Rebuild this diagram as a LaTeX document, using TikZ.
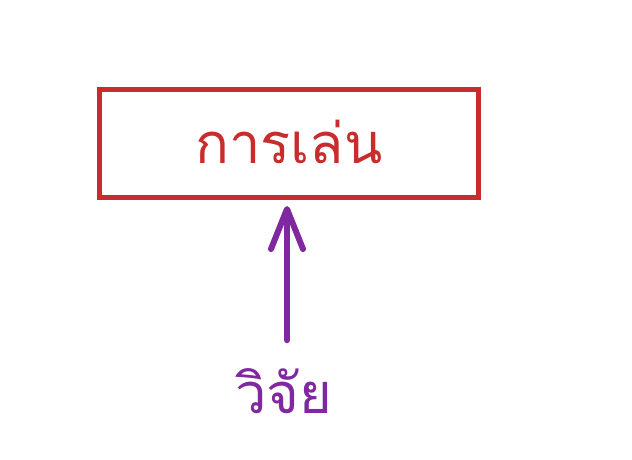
\documentclass[tikz,border=0pt]{standalone}
\usepackage{fontspec}
\newfontfamily\thaifont[Script=Thai]{Loma}
\usetikzlibrary{arrows.meta}
\definecolor{boxred}{RGB}{200,44,44}
\definecolor{arrowpurple}{RGB}{128,40,160}
\tikzset{
  mainbox/.style={draw=boxred, line width=5pt, minimum width=379pt, minimum height=108pt, inner sep=0pt},
  link/.style={draw=arrowpurple, line width=6.5pt, line cap=round, -{Straight Barb[length=40pt,width=32pt,line width=6pt,round]}},
}
\begin{document}
\begin{tikzpicture}[x=1pt,y=-1pt]
\useasboundingbox (0,0) rectangle (632,459);
\fill[white] (0,0) rectangle (632,459);
\node[mainbox] (play) at (289,143) {};
\node[text=boxred, font=\thaifont\fontsize{56}{60}\selectfont, anchor=base] (playtxt) at (289,163) {การเล่น};
\coordinate (start) at (287,340);
\node[text=arrowpurple, font=\thaifont\fontsize{56}{60}\selectfont, anchor=base] (research) at (284,413) {วิจัย};
\draw[link] (start) -- (287,206);
\end{tikzpicture}
\end{document}
